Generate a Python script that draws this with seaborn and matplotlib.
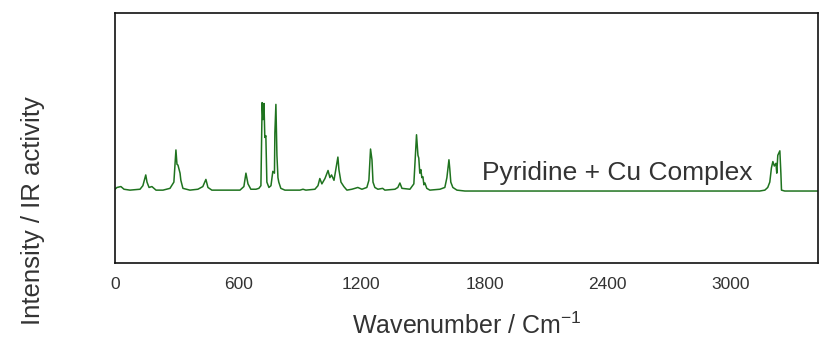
import matplotlib
matplotlib.use("Agg")
import matplotlib.pyplot as plt
from matplotlib.ticker import MultipleLocator
import seaborn as sns
import pandas as pd

# Spectrum: wavenumber (cm-1) and intensity (arb. units)
wavenumber = [0, 10, 29, 44, 73, 122, 136, 150, 156, 166, 180, 200, 234, 268, 287,
              297, 302, 307, 317, 321, 331, 365, 404, 428, 443, 453, 472, 609, 628,
              638, 648, 662, 687, 701, 711, 717, 721, 726, 730, 735, 740, 750, 760,
              769, 777, 779, 784, 789, 794, 798, 808, 828, 901, 916, 930, 974, 989,
              998, 1008, 1023, 1038, 1047, 1055, 1067, 1086, 1091, 1101, 1115, 1130,
              1154, 1169, 1183, 1203, 1227, 1237, 1245, 1252, 1257, 1266, 1281, 1304,
              1315, 1364, 1378, 1388, 1398, 1437, 1456, 1469, 1476, 1480, 1485, 1490,
              1495, 1500, 1505, 1510, 1519, 1534, 1583, 1607, 1617, 1627, 1631, 1636,
              1646, 1666, 1705, 2849, 3141, 3166, 3180, 3190, 3198, 3205, 3212, 3220,
              3224, 3229, 3239, 3244, 3247, 3263, 3440]
intensity = [2, 4, 5, 2, 1, 2, 6, 18, 10, 4, 5, 1, 1, 3, 10,
             46, 30, 29, 20, 12, 3, 1, 2, 5, 13, 4, 1, 1, 5,
             20, 8, 2, 2, 3, 6, 99, 80, 98, 60, 62, 10, 4, 6,
             22, 20, 65, 97, 40, 15, 10, 3, 1, 1, 2, 1, 2, 6,
             14, 8, 14, 23, 15, 18, 12, 38, 24, 10, 5, 1,
             2, 3, 4, 2, 4, 12, 47, 35, 10, 4, 2, 3,
             1, 2, 4, 9, 3, 2, 8, 63, 40, 37, 20, 24,
             15, 16, 7, 9, 3, 1, 2, 4, 15, 35, 25, 10,
             4, 1, 0, 0, 0, 1, 4, 10, 26, 33, 28, 31,
             20, 40, 45, 20, 1, 0, 0]
xticks = [0, 600, 1200, 1800, 2400, 3000]
label_text = "Pyridine + Cu Complex"

df = pd.DataFrame({"Wavenumber": wavenumber, "Intensity": intensity})

sns.set_style("white")
plt.rcParams["font.family"] = ["Liberation Sans", "DejaVu Sans"]

fig = plt.figure(figsize=(8.2, 3.41), dpi=100)
ax = fig.add_axes([0.1402, 0.2287, 0.8574, 0.7331])

sns.lineplot(data=df, x="Wavenumber", y="Intensity", ax=ax, color="#1f731f",
             linewidth=1.1, sort=False, estimator=None)

ax.set_xlim(0, 3425)
ax.set_ylim(-80.6, 199.3)
ax.set_xticks(xticks)
ax.xaxis.set_minor_locator(MultipleLocator(300))
ax.tick_params(axis="x", which="major", direction="in", length=6, width=1.1,
               labelsize=12.5, pad=10, colors="#222222", labelcolor="#333333")
ax.tick_params(axis="x", which="minor", direction="in", length=4, width=1.1,
               colors="#222222")
ax.set_yticks([])
for s in ax.spines.values():
    s.set_color("#111111")
    s.set_linewidth(1.2)

ax.set_xlabel("Wavenumber / Cm$^{\\mathregular{-1}}$", fontsize=18, color="#333333", labelpad=15)
ax.set_ylabel("Intensity / IR activity", fontsize=18.5, color="#333333")
ax.yaxis.set_label_coords(-0.100, 0.208)
ax.text(1790, 20, label_text, fontsize=19, color="#333333", va="center", ha="left")

fig.savefig("out.png", dpi=100, facecolor="white")
